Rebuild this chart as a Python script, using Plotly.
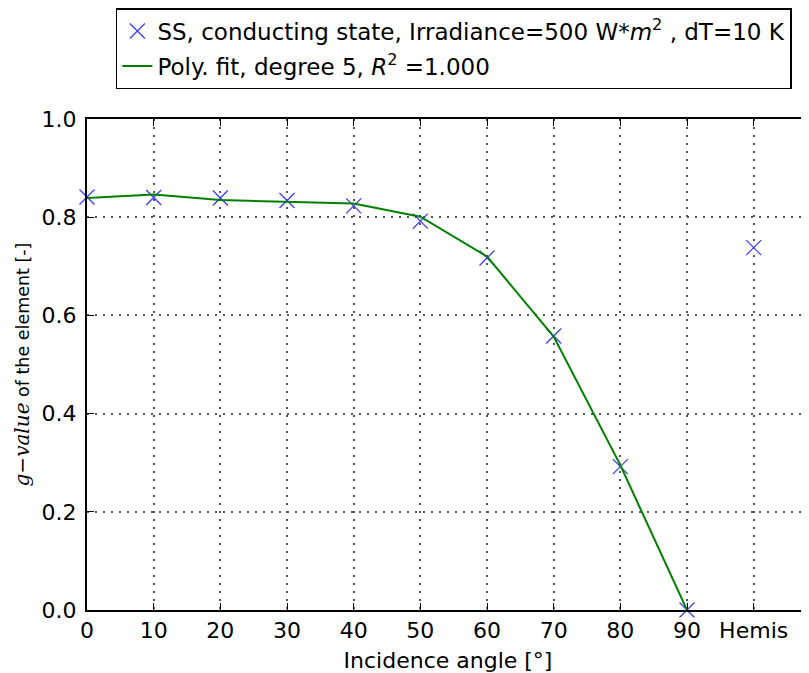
import plotly.graph_objects as go

angles = [0, 10, 20, 30, 40, 50, 60, 70, 80, 90]
g_measured = [0.841, 0.840, 0.839, 0.834, 0.823, 0.792, 0.717, 0.558, 0.292, 0.0]
hemis_x = 100
hemis_value = 0.738
fit_values = [0.839, 0.846, 0.835, 0.831, 0.828, 0.801, 0.720, 0.557, 0.295, 0.0]
tick_vals = [0, 10, 20, 30, 40, 50, 60, 70, 80, 90, 100]
tick_text = ["0", "10", "20", "30", "40", "50", "60", "70", "80", "90", "Hemis"]

font = "DejaVu Sans"
grid = dict(showgrid=True, gridcolor="#555", gridwidth=1.5, griddash="2px,6px")

fig = go.Figure()
fig.add_trace(go.Scatter(
    x=angles + [hemis_x], y=g_measured + [hemis_value],
    mode="markers",
    marker=dict(symbol="x-thin-open", size=15, color="rgb(60,60,255)",
                line=dict(width=1.3, color="rgb(60,60,255)")),
    name="SS, conducting state, Irradiance=500 W*<i>m</i><sup>2</sup> , dT=10 K",
    legendgroup="a",
    cliponaxis=False,
))
fig.add_trace(go.Scatter(
    x=angles, y=fit_values, mode="lines",
    line=dict(color="#008000", width=2),
    name="Poly. fit, degree 5, <i>R</i><sup>2</sup> =1.000",
    legendgroup="b",
    cliponaxis=False,
))

fig.update_layout(
    width=801, height=665,
    margin=dict(l=79, r=0, t=111, b=63, autoexpand=False),
    paper_bgcolor="white", plot_bgcolor="white",
    font=dict(family=font, size=22, color="black"),
    showlegend=True,
    legend=dict(
        x=0.040, y=1.226, xanchor="left", yanchor="top",
        bordercolor="black", borderwidth=1.5, bgcolor="white",
        font=dict(family=font, size=23, color="black"),
        traceorder="grouped", tracegroupgap=2,
    ),
    xaxis=dict(
        range=[0, 108.3], tickvals=tick_vals, ticktext=tick_text,
        showline=True, linecolor="black", linewidth=2, mirror="ticks",
        ticks="inside", ticklen=7, tickcolor="black", tickwidth=1.2,
        zeroline=False, automargin=False,
        tickfont=dict(family=font, size=22, color="black"),
        title=dict(text="Incidence angle [°]", font=dict(family=font, size=22), standoff=12),
        **grid,
    ),
    yaxis=dict(
        range=[0, 1.0], tickvals=[0, 0.2, 0.4, 0.6, 0.8, 1.0],
        ticktext=["0.0", "0.2", "0.4", "0.6", "0.8", "1.0"],
        showline=True, linecolor="black", linewidth=2, mirror=False,
        ticks="inside", ticklen=7, tickcolor="black", tickwidth=1.2,
        zeroline=False, automargin=False,
        tickfont=dict(family=font, size=22, color="black"),
        ticklabelstandoff=4,
        title=dict(text="<span style='font-family:DejaVu Serif;font-size:20px'><i>g</i>−<i>value</i></span> of the element [-]",
                   font=dict(family=font, size=17.5), standoff=7),
        **grid,
    ),
)

fig.write_html("out.html")
